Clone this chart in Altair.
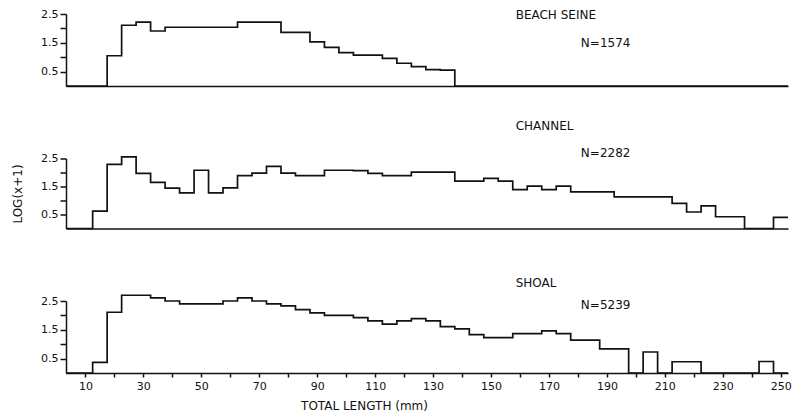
import altair as alt
import pandas as pd

# ---- data ----
length_bins = [15, 20, 25, 30, 35, 40, 45, 50, 55, 60, 65, 70, 75, 80, 85, 90,
               95, 100, 105, 110, 115, 120, 125, 130, 135, 140, 145, 150, 155,
               160, 165, 170, 175, 180, 185, 190, 195, 200, 205, 210, 215, 220,
               225, 230, 235, 240, 245, 250]

beach_seine = [0, 1.05, 2.11, 2.22, 1.91, 2.04, 2.04, 2.04, 2.04, 2.04, 2.22, 2.22,
               2.22, 1.86, 1.86, 1.53, 1.34, 1.16, 1.07, 1.07, 0.96, 0.79, 0.67,
               0.57, 0.55, 0, 0, 0, 0, 0, 0, 0, 0, 0, 0, 0, 0, 0, 0, 0, 0, 0, 0,
               0, 0, 0, 0, 0]

channel = [0.62, 2.29, 2.56, 1.97, 1.65, 1.44, 1.27, 2.08, 1.27, 1.45, 1.89, 1.98,
           2.22, 1.98, 1.89, 1.89, 2.08, 2.08, 2.07, 1.97, 1.89, 1.89, 2.01, 2.01,
           2.01, 1.69, 1.69, 1.79, 1.69, 1.39, 1.51, 1.39, 1.51, 1.31, 1.31, 1.31,
           1.13, 1.13, 1.13, 1.13, 0.90, 0.59, 0.81, 0.42, 0.42, 0, 0, 0.40]

shoal = [0.37, 2.11, 2.70, 2.70, 2.61, 2.50, 2.40, 2.40, 2.40, 2.50, 2.61, 2.50,
         2.40, 2.33, 2.20, 2.09, 2.00, 2.00, 1.92, 1.81, 1.70, 1.81, 1.89, 1.81,
         1.61, 1.53, 1.33, 1.23, 1.23, 1.37, 1.37, 1.46, 1.37, 1.14, 1.14, 0.84,
         0.84, 0, 0.73, 0, 0.39, 0.39, 0, 0, 0, 0, 0.40, 0]

panel_names = ["BEACH SEINE", "CHANNEL", "SHOAL"]
panel_counts = ["N=1574", "N=2282", "N=5239"]

x_ticks = [10, 20, 30, 40, 50, 60, 70, 80, 90, 100, 110, 120, 130, 140, 150,
           160, 170, 180, 190, 200, 210, 220, 230, 240, 250]
y_ticks = [0.5, 1.0, 1.5, 2.0, 2.5]

X_MIN, X_MAX = 3.3, 252.5
HALF = 2.5  # half bin width (mm)

FONT = "DejaVu Sans"
INK = "#111111"

xscale = alt.Scale(domain=[X_MIN, X_MAX], nice=False, zero=False)
yscale = alt.Scale(domain=[0, 2.5], nice=False, zero=False)


def outline(values):
    xs = [X_MIN, length_bins[0] - HALF]
    ys = [0, 0]
    for c, v in zip(length_bins, values):
        xs += [c - HALF, c + HALF]
        ys += [v, v]
    return pd.DataFrame({"x": xs, "y": ys, "i": list(range(len(xs)))})


def panel(values, name, count, name_pos, count_pos, height, bottom=False, ytitle=False):
    if bottom:
        xaxis = alt.Axis(values=x_ticks,
                         labelExpr="datum.value % 20 == 10 ? datum.label : ''",
                         title="TOTAL LENGTH (mm)", tickSize=4, labelPadding=3,
                         labelFlush=False, titleX=298, titleY=27,
                         titleAlign="center", titleBaseline="top")
    else:
        xaxis = alt.Axis(labels=False, ticks=False, title=None)
    yaxis_kw = dict(values=y_ticks,
                    labelExpr="(datum.value == 1 || datum.value == 2) ? '' : format(datum.value, '.1f')",
                    tickSize=6, labelPadding=2)
    if ytitle:
        yaxis = alt.Axis(title="LOG(x+1)", titleX=-42, **yaxis_kw)
    else:
        yaxis = alt.Axis(title=None, **yaxis_kw)

    line = alt.Chart(outline(values)).mark_line(
        color=INK, strokeWidth=1.7, strokeJoin="miter"
    ).encode(
        x=alt.X("x:Q", scale=xscale, axis=xaxis),
        y=alt.Y("y:Q", scale=yscale, axis=yaxis),
        order="i:Q",
    )
    labels = pd.DataFrame({
        "x": [name_pos[0], count_pos[0]],
        "y": [name_pos[1], count_pos[1]],
        "t": [name, count],
    })
    text = alt.Chart(labels).mark_text(
        align="left", baseline="middle", font=FONT, fontSize=12, color=INK
    ).encode(
        x=alt.X("x:Q", scale=xscale, axis=xaxis),
        y=alt.Y("y:Q", scale=yscale, axis=yaxis),
        text="t:N",
    )
    return alt.layer(line, text).properties(width=722, height=height)


top = panel(beach_seine, panel_names[0], panel_counts[0], (158.5, 2.45), (181.0, 1.5), 72)
mid = panel(channel, panel_names[1], panel_counts[1], (158.5, 3.65), (181.0, 2.68), 70, ytitle=True)
bot = panel(shoal, panel_names[2], panel_counts[2], (158.5, 3.12), (181.0, 2.37), 72, bottom=True)

chart = alt.vconcat(top, mid, bot, spacing=72.5, bounds="flush").configure_view(
    stroke=None
).configure_axis(
    domainColor=INK, tickColor=INK, labelColor=INK, titleColor=INK,
    labelFont=FONT, titleFont=FONT, labelFontSize=11, titleFontSize=12,
    titleFontWeight="normal", grid=False, domainWidth=1.5, tickWidth=1.5,
).properties(
    padding={"left": 3, "top": 0, "right": 0, "bottom": 0}
)

chart.save("out.html", embed_options={"renderer": "svg", "actions": False})
